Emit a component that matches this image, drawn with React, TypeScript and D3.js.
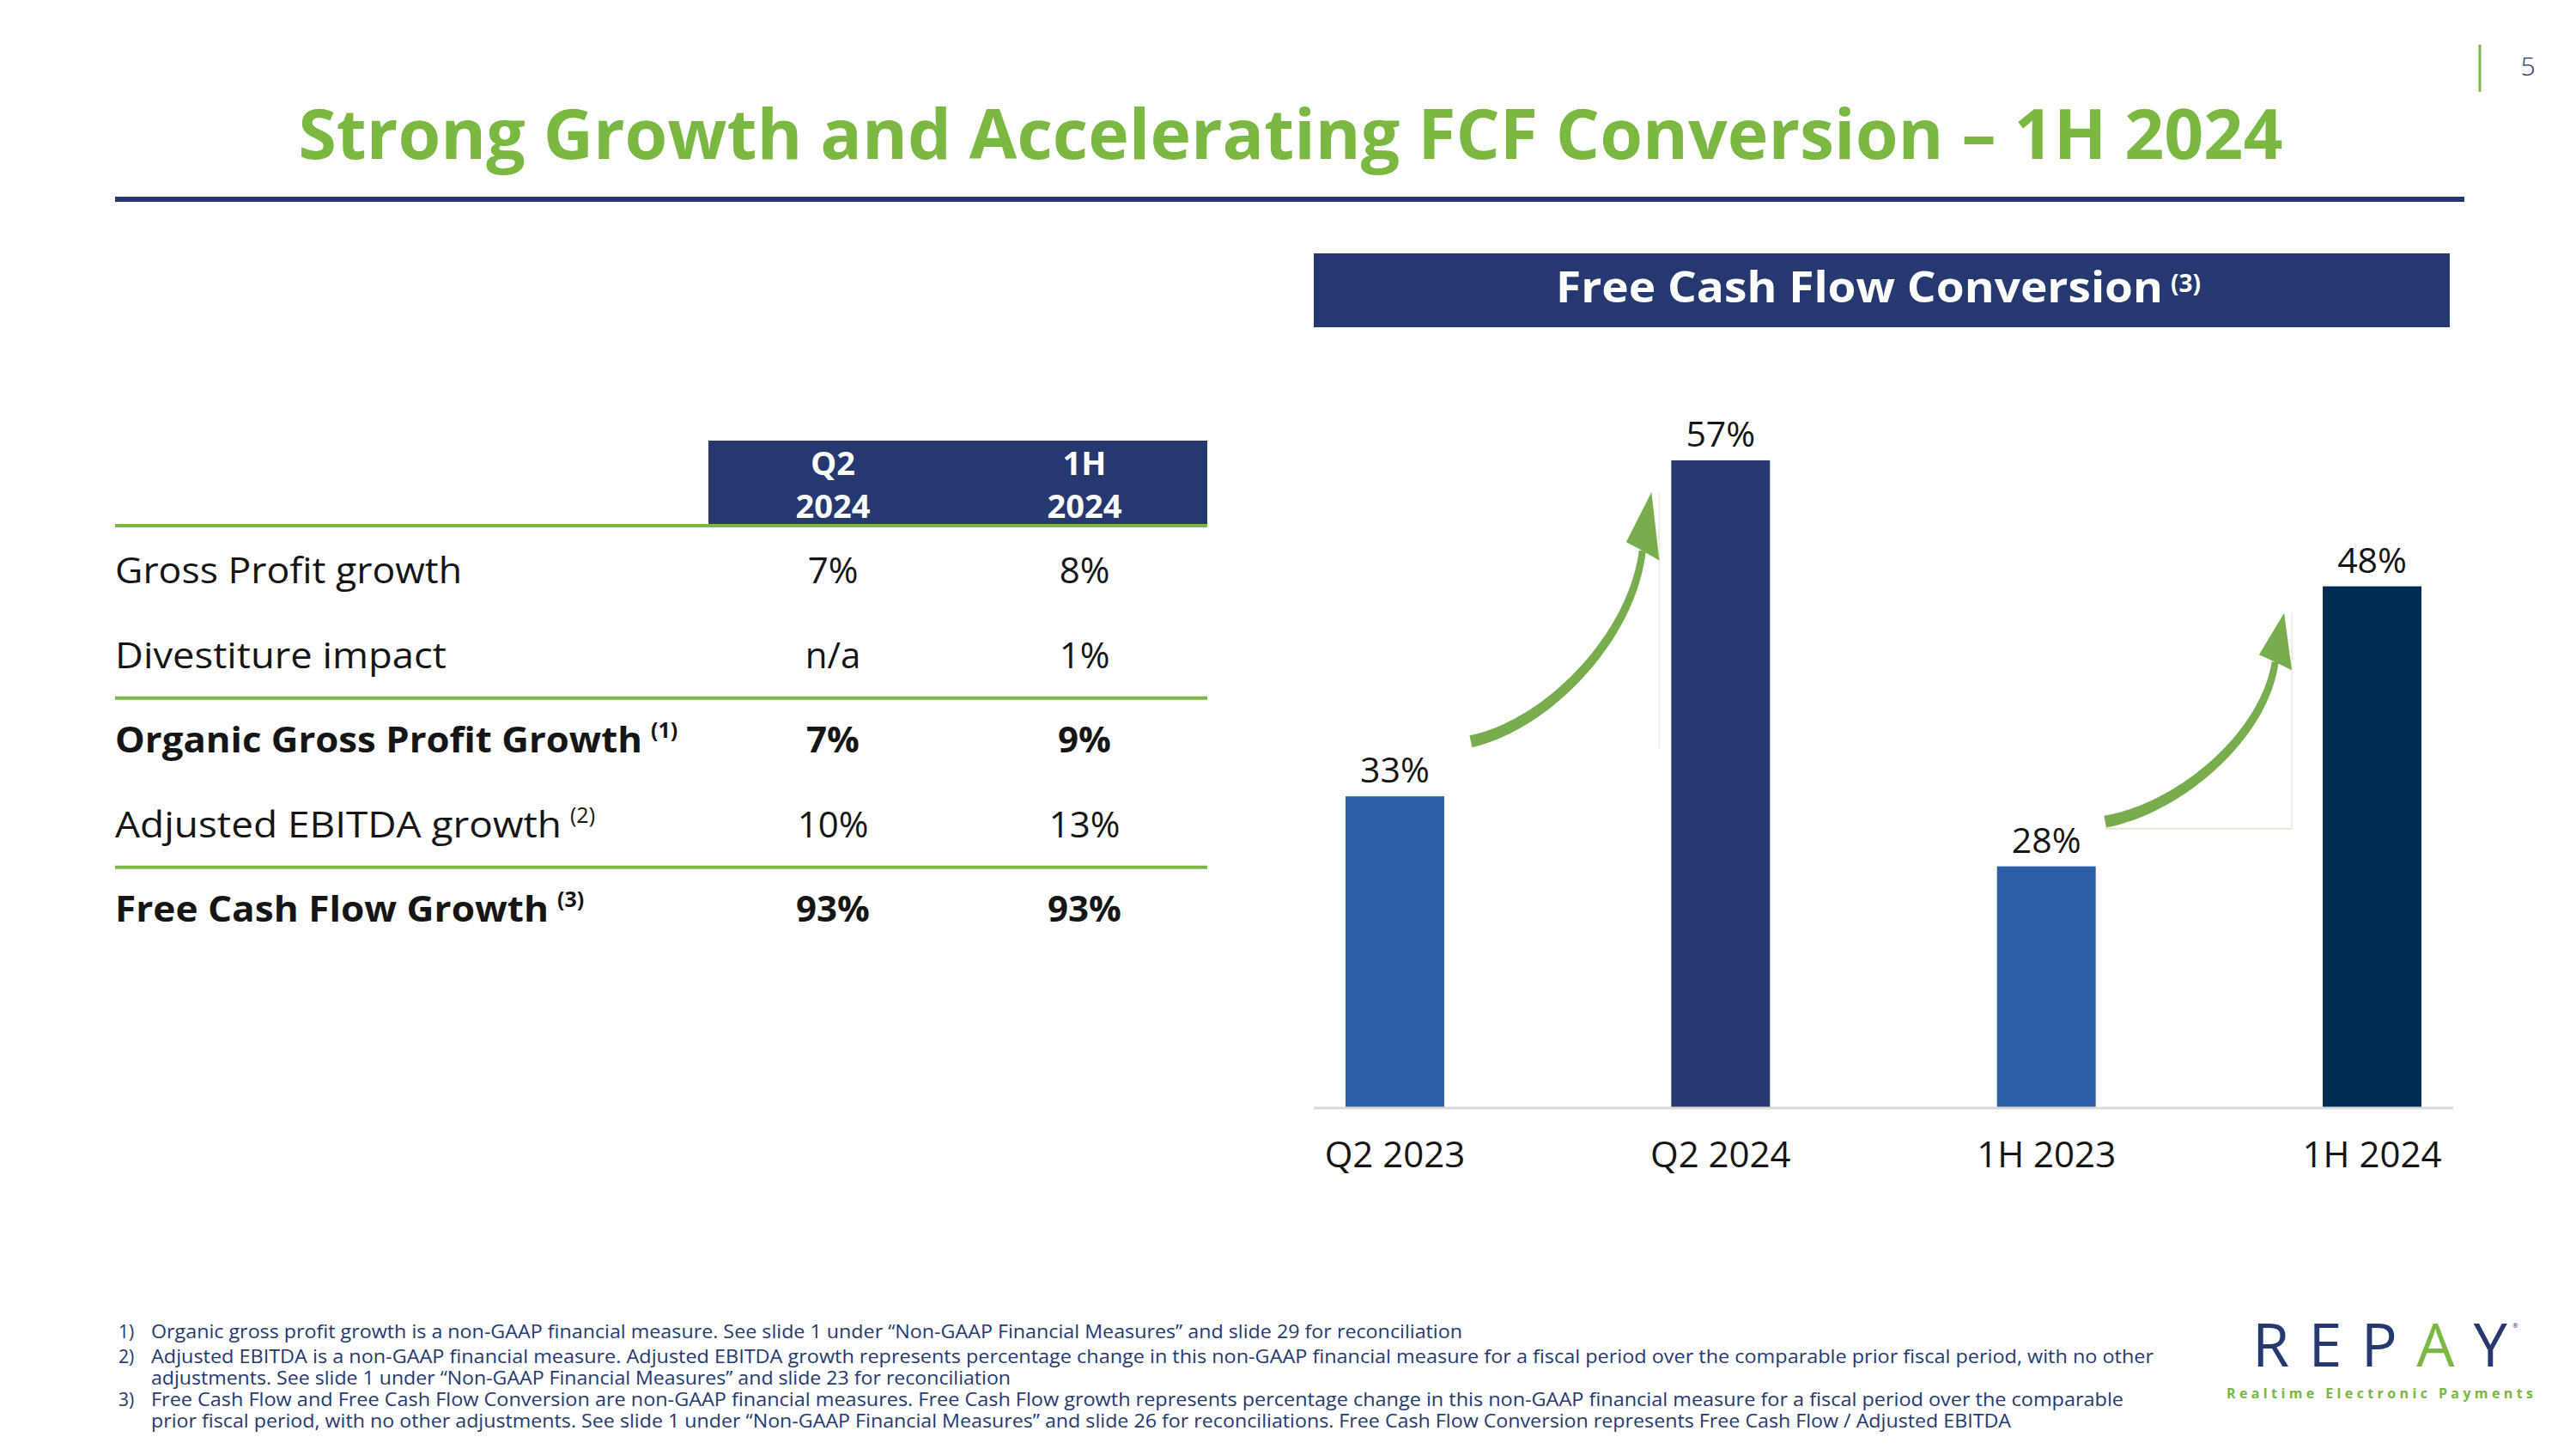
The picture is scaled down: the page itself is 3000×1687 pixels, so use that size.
import React, { useEffect } from "react";
import * as d3 from "d3";

// ---------- data ----------
const categories = ["Q2 2023", "Q2 2024", "1H 2023", "1H 2024"];
const conversion = [33, 57, 28, 48];
const barColors = ["#2A5FA8", "#253870", "#2A5FA8", "#002B52"];

const tableColumns = [["Q2", "2024"], ["1H", "2024"]];
const tableRows = ["Gross Profit growth", "Divestiture impact", "Organic Gross Profit Growth", "Adjusted EBITDA growth", "Free Cash Flow Growth"];
const tableNotes = ["", "", "(1)", "(2)", "(3)"];
const tableBold = [false, false, true, false, true];
const q2Values = ["7%", "n/a", "7%", "10%", "93%"];
const h1Values = ["8%", "1%", "9%", "13%", "93%"];
const separatorsAfter = [1, 3];
const rowLabelWidths = [404, 386, 614, 520, 505];

const footnotes = [
  ["1)", "Organic gross profit growth is a non-GAAP financial measure. See slide 1 under \u201cNon-GAAP Financial Measures\u201d and slide 29 for reconciliation"],
  ["2)", "Adjusted EBITDA is a non-GAAP financial measure. Adjusted EBITDA growth represents percentage change in this non-GAAP financial measure for a fiscal period over the comparable prior fiscal period, with no other"],
  ["", "adjustments. See slide 1 under \u201cNon-GAAP Financial Measures\u201d and slide 23 for reconciliation"],
  ["3)", "Free Cash Flow and Free Cash Flow Conversion are non-GAAP financial measures. Free Cash Flow growth represents percentage change in this non-GAAP financial measure for a fiscal period over the comparable"],
  ["", "prior fiscal period, with no other adjustments. See slide 1 under \u201cNon-GAAP Financial Measures\u201d and slide 26 for reconciliations. Free Cash Flow Conversion represents Free Cash Flow / Adjusted EBITDA"],
];
const footnoteWidths = [1527, 2332, 1001, 2297, 2166];

const arrows = [
  { from: 0, to: 1, sdx: 31, sdy: -64, tdx: -23, tdy: 37, frame: ["right"] },
  { from: 2, to: 3, sdx: 11, sdy: -52, tdx: -45, tdy: 31, frame: ["right", "bottom"] },
];

// ---------- style ----------
const W = 3000, H = 1687;
const FONT = "'Open Sans', 'Noto Sans', sans-serif";
const NAVY = "#253870";
const GREEN = "#7AB842";
const ARROW_GREEN = "#77AD4C";
const TEXT = "#151515";

function arrowShape(S: [number, number], T: [number, number]) {
  const Dx = T[0] - S[0], Dy = T[1] - S[1];
  const C1: [number, number] = [S[0] + 0.414 * Dx, S[1] + 0.064 * Dy];
  const C2: [number, number] = [S[0] + 0.89 * Dx, S[1] + 0.41 * Dy];
  const B: [number, number] = [S[0] + 0.95 * Dx, S[1] + 0.765 * Dy];
  const L: [number, number] = [S[0] + 0.86 * Dx, S[1] + 0.80 * Dy];
  const R: [number, number] = [S[0] + 1.043 * Dx, S[1] + 0.726 * Dy];
  const n = 50;
  const left: [number, number][] = [], right: [number, number][] = [];
  for (let i = 0; i <= n; i++) {
    const t = i / n, u = 1 - t;
    const x = u * u * u * S[0] + 3 * u * u * t * C1[0] + 3 * u * t * t * C2[0] + t * t * t * B[0];
    const y = u * u * u * S[1] + 3 * u * u * t * C1[1] + 3 * u * t * t * C2[1] + t * t * t * B[1];
    const dx = 3 * u * u * (C1[0] - S[0]) + 6 * u * t * (C2[0] - C1[0]) + 3 * t * t * (B[0] - C2[0]);
    const dy = 3 * u * u * (C1[1] - S[1]) + 6 * u * t * (C2[1] - C1[1]) + 3 * t * t * (B[1] - C2[1]);
    const len = Math.hypot(dx, dy) || 1;
    const nx = -dy / len, ny = dx / len;
    const w = (14 - 6 * t) / 2;
    left.push([x + nx * w, y + ny * w]);
    right.push([x - nx * w, y - ny * w]);
  }
  const body = d3.line()([...left, ...right.reverse()]) + "Z";
  const head = d3.line()([T, L, B, R]) + "Z";
  return { body, head, R, L };
}

export default function App() {
  useEffect(() => {
    document.body.style.margin = "0";
  }, []);

  // chart scales
  const x = d3.scaleBand<string>().domain(categories).range([1530, 2857]).paddingInner(0.697).paddingOuter(0.0975);
  const y = d3.scaleLinear().domain([10.8, 60]).range([1289, 1289 - 16.3 * 49.2]);
  const bw = x.bandwidth();

  // table geometry
  const rowY = d3.scalePoint<string>().domain(tableRows).range([679, 1073]);
  const colX = d3.scalePoint<number>().domain([0, 1]).range([970, 1263]);

  return (
    <svg width={W} height={H} viewBox={`0 0 ${W} ${H}`} style={{ display: "block", position: "absolute", left: 0, top: 0, background: "#fff" }} fontFamily={FONT}>
      <rect x={0} y={0} width={W} height={H} fill="#fff" />

      {/* page number */}
      <line x1={2888} x2={2888} y1={52} y2={107} stroke={GREEN} strokeWidth={3} />
      <text x={2944} y={88} fontSize={30} fill={NAVY} textAnchor="middle" fontWeight={300}>5</text>

      {/* title */}
      <text x={1503} y={185} fontSize={80} fontWeight={700} fill={GREEN} textAnchor="middle" textLength={2311} lengthAdjust="spacingAndGlyphs">
        Strong Growth and Accelerating FCF Conversion – 1H 2024
      </text>
      <rect x={134} y={229} width={2736} height={6} fill={NAVY} />

      {/* table header */}
      <rect x={825} y={513} width={581} height={99} fill={NAVY} />
      {tableColumns.map((c, i) => (
        <g key={i}>
          <text x={colX(i)} y={553} fontSize={38} fontWeight={700} fill="#fff" textAnchor="middle">{c[0]}</text>
          <text x={colX(i)} y={603} fontSize={38} fontWeight={700} fill="#fff" textAnchor="middle">{c[1]}</text>
        </g>
      ))}
      <rect x={134} y={610} width={1272} height={4} fill={GREEN} />
      {separatorsAfter.map((r) => {
        const yy = ((rowY(tableRows[r]) as number) + (rowY(tableRows[r + 1]) as number)) / 2 - 14;
        return <rect key={r} x={134} y={yy - 2} width={1272} height={4} fill={GREEN} />;
      })}
      {tableRows.map((r, i) => {
        const yy = rowY(r) as number;
        const fw = tableBold[i] ? 700 : 400;
        return (
          <g key={r}>
            <text x={134} y={yy} fontSize={42} fontWeight={fw} fill={TEXT} textLength={rowLabelWidths[i]} lengthAdjust="spacingAndGlyphs">
              {r}
            </text>
            {tableNotes[i] && (
              <text x={134 + rowLabelWidths[i] + 10} y={yy - 17} fontSize={25} fontWeight={fw} fill={TEXT}>{tableNotes[i]}</text>
            )}
            <text x={colX(0)} y={yy} fontSize={42} fontWeight={fw} fill={TEXT} textAnchor="middle">{q2Values[i]}</text>
            <text x={colX(1)} y={yy} fontSize={42} fontWeight={fw} fill={TEXT} textAnchor="middle">{h1Values[i]}</text>
          </g>
        );
      })}

      {/* chart header */}
      <rect x={1530} y={295} width={1323} height={86} fill={NAVY} />
      <text x={1812} y={352} fontSize={50} fontWeight={700} fill="#fff" textLength={707} lengthAdjust="spacingAndGlyphs">
        Free Cash Flow Conversion
      </text>
      <text x={2528} y={340} fontSize={28} fontWeight={700} fill="#fff">(3)</text>

      {/* arrows */}
      {arrows.map((a, i) => {
        const S: [number, number] = [(x(categories[a.from]) as number) + bw + a.sdx, y(conversion[a.from]) + a.sdy];
        const T: [number, number] = [(x(categories[a.to]) as number) + a.tdx, y(conversion[a.to]) + a.tdy];
        const sh = arrowShape(S, T);
        return (
          <g key={i}>
            {a.frame.includes("right") && <line x1={sh.R[0]} x2={sh.R[0]} y1={T[1]} y2={S[1] + 8} stroke="#e6ecdc" strokeWidth={1.5} />}
            {a.frame.includes("bottom") && <line x1={S[0]} x2={sh.R[0]} y1={S[1] + 8} y2={S[1] + 8} stroke="#d8e8c8" strokeWidth={1.5} />}
            <path d={sh.body} fill={ARROW_GREEN} />
            <path d={sh.head} fill={ARROW_GREEN} />
          </g>
        );
      })}

      {/* bars */}
      {categories.map((c, i) => (
        <g key={c}>
          <rect x={x(c)} y={y(conversion[i])} width={bw} height={y.range()[0] - y(conversion[i])} fill={barColors[i]} />
          <text x={(x(c) as number) + bw / 2} y={y(conversion[i]) - 16} fontSize={41} fill={TEXT} textAnchor="middle">{conversion[i]}%</text>
          <text x={(x(c) as number) + bw / 2} y={1359} fontSize={42} fill={TEXT} textAnchor="middle">{c}</text>
        </g>
      ))}
      <line x1={1530} x2={2857} y1={1290} y2={1290} stroke="#d9d9d9" strokeWidth={3} />

      {/* footnotes */}
      {footnotes.map((f, i) => {
        const yy = [1558, 1587, 1612, 1637, 1662][i];
        return (
          <g key={i} fontSize={21} fill={NAVY}>
            {f[0] && <text x={138} y={yy}>{f[0]}</text>}
            <text x={176} y={yy} textLength={footnoteWidths[i]} lengthAdjust="spacingAndGlyphs">{f[1]}</text>
          </g>
        );
      })}

      {/* logo */}
      <text x={2623} y={1591} fontSize={70} fontWeight={400} fill={NAVY} textLength={297} lengthAdjust="spacing">
        REP<tspan fill={GREEN}>A</tspan>Y
      </text>
      <text x={2926} y={1546} fontSize={8} fill={NAVY}>®</text>
      <text x={2593} y={1628} fontSize={16} fontWeight={700} fill={GREEN} textLength={357} lengthAdjust="spacing">Realtime Electronic Payments</text>
    </svg>
  );
}
